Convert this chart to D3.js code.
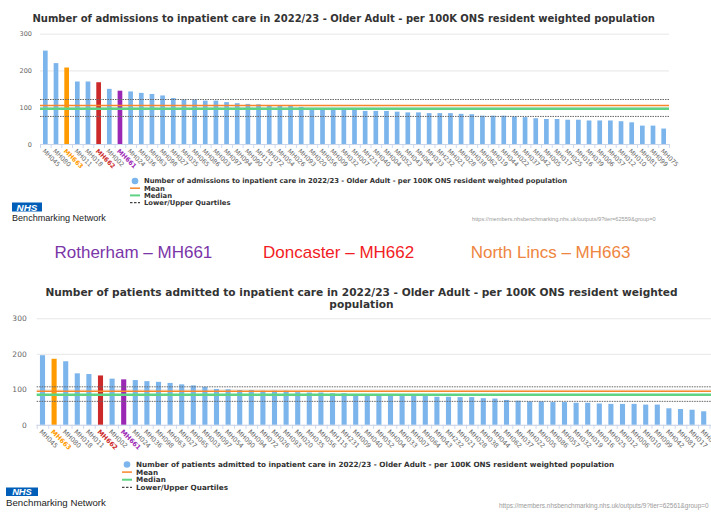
<!DOCTYPE html>
<html>
<head>
<meta charset="utf-8">
<script src="https://cdn.jsdelivr.net/npm/d3@7/dist/d3.min.js"></script>
<style>
  html, body { margin: 0; padding: 0; background: #fff; }
  svg { display: block; }
</style>
</head>
<body>
<svg id="page" width="711" height="527"></svg>
<script>
// ---- Admissions per 100K (2022/23, Older Adult) ----
const admissionsProviders = ["MH045","MH080","MH663","MH011","MH018","MH662","MH002","MH661","MH024","MH036",
  "MH063","MH098","MH027","MH035","MH065","MH086","MH003","MH097","MH094","MH090",
  "MH115","MH072","MH054","MH026","MH093","MH020","MH056","MH009","MH032","MH007",
  "MH231","MH040","MH004","MH052","MH043","MH064","MH033","MH232","MH021","MH028",
  "MH038","MH062","MH019","MH044","MH022","MH037","MH042","MH005","MH017","MH025",
  "MH016","MH039","MH006","MH057","MH012","MH010","MH081","MH099","MH075"];
const admissionsRates = [254,220,208,170,170,168,150,145,143,139,
  136,132,125,121,121,118,118,114,111,109,
  108,105,105,105,101,97,97,97,97,96,
  90,90,90,88,86,86,84,84,84,82,
  81,77,77,77,75,73,70,68,68,66,
  66,64,64,64,62,59,50,50,42];
const admissionsMean = 105;
const admissionsMedian = 96;
const admissionsQuartiles = [75, 121];

// ---- Patients admitted per 100K (2022/23, Older Adult) ----
const patientsProviders = ["MH045","MH663","MH080","MH018","MH011","MH662","MH002","MH661","MH024","MH036",
  "MH098","MH063","MH027","MH065","MH003","MH097","MH054","MH090","MH094","MH072",
  "MH026","MH093","MH020","MH035","MH056","MH115","MH231","MH009","MH040","MH052",
  "MH004","MH033","MH007","MH064","MH043","MH232","MH021","MH028","MH038","MH044",
  "MH062","MH037","MH022","MH005","MH086","MH057","MH032","MH019","MH016","MH025",
  "MH012","MH006","MH010","MH099","MH042","MH081","MH017","MH075"];
const patientsRates = [196,186,179,145,143,139,130,128,126,123,
  121,118,114,111,107,101,100,98,98,96,
  96,96,92,91,91,89,89,87,84,82,
  82,81,81,81,79,79,78,78,75,74,
  70,68,66,66,64,64,62,62,60,59,
  59,59,57,57,46.5,44.5,42.5,38];
const patientsMean = 94.5;
const patientsMedian = 85;
const patientsQuartiles = [66, 107];

const yTickValues = [0, 100, 200, 300];
const legendLabels = ["Mean", "Median", "Lower/Upper Quartiles"];
const trustLabels = ["Rotherham \u2013 MH661", "Doncaster \u2013 MH662", "North Lincs \u2013 MH663"];

// ---- styling ----
const trustColours = { MH661: "#9b27b5", MH662: "#cc2a2a", MH663: "#ff9a00" };
const trustTextColours = ["#7a35a8", "#f21c24", "#ee8540"];
const barColour = "#7cb5ec";
const meanColour = "#f7862a";
const medianColour = "#5ed384";
const quartileColour = "#666";
const chartFont = "'DejaVu Sans', Verdana, sans-serif";
const plainFont = "'Liberation Sans', Arial, sans-serif";

const svg = d3.select("#page");
svg.append("rect").attr("width", 711).attr("height", 527).attr("fill", "#fff");

function fitWidth(sel, w) {
  const len = sel.node().getComputedTextLength();
  const fs = parseFloat(sel.attr("font-size"));
  sel.attr("font-size", fs * w / len);
  return sel;
}

function drawPanel(o) {
  const g = svg.append("g");
  const x = d3.scaleBand().domain(o.providers).range([o.left, o.right])
    .paddingInner(0.56).paddingOuter(0.28);
  const y = d3.scaleLinear().domain([0, 300]).range([o.base, o.top]);

  // title
  o.title.forEach((t, i) => {
    const tt = g.append("text").text(t)
      .attr("x", o.titleX).attr("y", o.titleY + i * o.titleLead)
      .attr("text-anchor", "middle").attr("font-family", chartFont)
      .attr("font-weight", "bold").attr("font-size", 10).attr("fill", "#333");
    if (i === 0) fitWidth(tt, o.titleWidth);
    else tt.attr("font-size", g.select("text").attr("font-size"));
  });

  // gridlines and value axis
  const yAxis = d3.axisLeft(y).tickValues(yTickValues)
    .tickSize(-(o.gridRight - o.left)).tickPadding(o.yPad);
  g.append("g").attr("transform", `translate(${o.left},0)`).call(yAxis)
    .call(s => s.select(".domain").remove())
    .call(s => s.selectAll(".tick line").attr("stroke", "#e6e6e6").attr("stroke-width", 1))
    .call(s => s.selectAll(".tick text").attr("fill", "#666")
      .attr("font-family", chartFont).attr("font-size", o.yFont));

  // bars
  g.append("g").selectAll("rect").data(o.values).join("rect")
    .attr("x", (d, i) => x(o.providers[i]))
    .attr("width", x.bandwidth())
    .attr("y", d => y(d))
    .attr("height", d => y(0) - y(d))
    .attr("fill", (d, i) => trustColours[o.providers[i]] || barColour);

  // category axis: base line, boundary ticks, slanted labels
  g.append("line").attr("x1", o.left).attr("x2", o.gridRight)
    .attr("y1", o.base + 0.5).attr("y2", o.base + 0.5)
    .attr("stroke", "#ccd6eb").attr("stroke-width", 1);
  g.append("g").selectAll("line").data(d3.range(o.providers.length + 1)).join("line")
    .attr("x1", i => o.left + i * x.step() + 0.5).attr("x2", i => o.left + i * x.step() + 0.5)
    .attr("y1", o.base).attr("y2", o.base + 4)
    .attr("stroke", "#ccd6eb");
  const xAxis = d3.axisBottom(x).tickSize(0).tickPadding(0);
  g.append("g").attr("transform", `translate(0,${o.base})`).call(xAxis)
    .call(s => s.select(".domain").remove())
    .call(s => s.selectAll(".tick text")
      .attr("y", 0).attr("dy", "0.32em")
      .attr("text-anchor", "start")
      .attr("transform", `translate(-2,${o.labelDrop}) rotate(45)`)
      .attr("font-family", chartFont).attr("font-size", o.xFont)
      .attr("font-weight", d => trustColours[d] ? "bold" : "normal")
      .attr("fill", d => trustColours[d] || "#666"));

  // reference lines
  const refs = g.append("g");
  o.quartiles.forEach(q => refs.append("line")
    .attr("x1", o.left).attr("x2", o.gridRight).attr("y1", y(q)).attr("y2", y(q))
    .attr("stroke", quartileColour).attr("stroke-width", 1).attr("stroke-dasharray", "1.5,1"));
  refs.append("line").attr("x1", o.left).attr("x2", o.gridRight)
    .attr("y1", y(o.median)).attr("y2", y(o.median))
    .attr("stroke", medianColour).attr("stroke-width", 2.5);
  refs.append("line").attr("x1", o.left).attr("x2", o.gridRight)
    .attr("y1", y(o.mean)).attr("y2", y(o.mean))
    .attr("stroke", meanColour).attr("stroke-width", 1.5);

  // legend
  const lg = g.append("g");
  const rows = [o.seriesName].concat(legendLabels);
  rows.forEach((r, i) => {
    const yy = o.legendY + i * o.legendLead;
    const t = lg.append("text").text(r).attr("x", o.legendTextX).attr("y", yy)
      .attr("dy", "0.35em").attr("font-family", chartFont).attr("font-weight", "bold")
      .attr("font-size", 6).attr("fill", "#333");
    if (i === 0) fitWidth(t, o.legendWidth);
    else t.attr("font-size", lg.select("text").attr("font-size"));
  });
  lg.append("circle").attr("cx", o.legendSymX).attr("cy", o.legendY).attr("r", 3.3).attr("fill", barColour);
  const sym = [[meanColour, 1.5, null], [medianColour, 2, null], ["#444", 1.2, "2.5,1.5"]];
  sym.forEach((s, i) => {
    const yy = o.legendY + (i + 1) * o.legendLead;
    lg.append("line").attr("x1", o.legendSymX - 5).attr("x2", o.legendSymX + 5)
      .attr("y1", yy).attr("y2", yy).attr("stroke", s[0]).attr("stroke-width", s[1])
      .attr("stroke-dasharray", s[2]);
  });

  // NHS Benchmarking branding and source link
  const logo = g.append("g").attr("transform", `translate(${o.logoX},${o.logoY})`);
  logo.append("rect").attr("width", o.logoW).attr("height", o.logoH).attr("fill", "#005eb8");
  logo.append("text").text("NHS").attr("x", o.logoW / 2).attr("y", o.logoH / 2).attr("dy", "0.36em")
    .attr("text-anchor", "middle").attr("fill", "#fff").attr("font-family", plainFont)
    .attr("font-weight", "bold").attr("font-style", "italic").attr("font-size", o.logoH * 1.1);
  fitWidth(g.append("text").text("Benchmarking Network").attr("x", o.logoX).attr("y", o.brandY)
    .attr("font-family", plainFont).attr("font-size", 9).attr("fill", "#222"), o.brandW);
  fitWidth(g.append("text").text(o.url).attr("x", o.urlX).attr("y", o.urlY)
    .attr("font-family", plainFont).attr("font-size", 5).attr("fill", "#9a9a9a"), o.urlW);
}

drawPanel({
  providers: admissionsProviders, values: admissionsRates,
  mean: admissionsMean, median: admissionsMedian, quartiles: admissionsQuartiles,
  title: ["Number of admissions to inpatient care in 2022/23 - Older Adult - per 100K ONS resident weighted population"],
  titleX: 343.7, titleY: 22, titleLead: 0, titleWidth: 623,
  left: 40, right: 669, gridRight: 669, base: 144, top: 33.7,
  yPad: 8, yFont: 6.5, xFont: 6.3, labelDrop: 6,
  seriesName: "Number of admissions to inpatient care in 2022/23 - Older Adult - per 100K ONS resident weighted population",
  legendY: 181, legendLead: 7.2, legendSymX: 135, legendTextX: 144, legendWidth: 424,
  logoX: 12, logoY: 202.5, logoW: 30, logoH: 9, brandY: 221, brandW: 94,
  url: "https://members.nhsbenchmarking.nhs.uk/outputs/9?tier=62559&group=0",
  urlX: 472, urlY: 220.5, urlW: 184
});

drawPanel({
  providers: patientsProviders, values: patientsRates,
  mean: patientsMean, median: patientsMedian, quartiles: patientsQuartiles,
  title: ["Number of patients admitted to inpatient care in 2022/23 - Older Adult - per 100K ONS resident weighted", "population"],
  titleX: 361.5, titleY: 295.5, titleLead: 12, titleWidth: 633,
  left: 36.7, right: 709.5, gridRight: 711, base: 424.8, top: 318.3,
  yPad: 10, yFont: 7.5, xFont: 6.5, labelDrop: 6,
  seriesName: "Number of patients admitted to inpatient care in 2022/23 - Older Adult - per 100K ONS resident weighted population",
  legendY: 464.5, legendLead: 7.6, legendSymX: 127, legendTextX: 136, legendWidth: 479,
  logoX: 6, logoY: 487.5, logoW: 32, logoH: 8.5, brandY: 506, brandW: 100,
  url: "https://members.nhsbenchmarking.nhs.uk/outputs/9?tier=62561&group=0",
  urlX: 499, urlY: 507.5, urlW: 210
});

// provider key between the two charts
const keyX = [54.5, 263, 470.7];
trustLabels.forEach((t, i) => {
  svg.append("text").text(t).attr("x", keyX[i]).attr("y", 258)
    .attr("font-family", plainFont).attr("font-size", 17).attr("fill", trustTextColours[i]);
});
</script>
</body>
</html>
